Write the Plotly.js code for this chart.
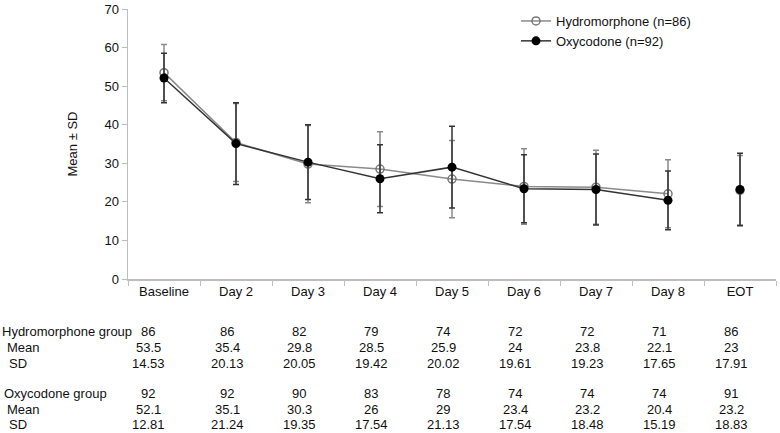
<!DOCTYPE html>
<html>
<head>
<meta charset="utf-8">
<script src="https://cdn.plot.ly/plotly-3.0.1.min.js"></script>
<style>
  html, body { margin: 0; padding: 0; background: #fff; }
  #chart { width: 780px; height: 433px; }
</style>
</head>
<body>
<div id="chart"></div>
<script>
var days = ['Baseline', 'Day 2', 'Day 3', 'Day 4', 'Day 5', 'Day 6', 'Day 7', 'Day 8'];
var eot = 'EOT';
var allCats = days.concat([eot]);

// table values
var hydroN = [86, 86, 82, 79, 74, 72, 72, 71, 86];
var hydroMean = [53.5, 35.4, 29.8, 28.5, 25.9, 24, 23.8, 22.1, 23];
var hydroSD = ['14.53', '20.13', '20.05', '19.42', '20.02', '19.61', '19.23', '17.65', '17.91'];
var oxyN = [92, 92, 90, 83, 78, 74, 74, 74, 91];
var oxyMean = [52.1, 35.1, 30.3, 26, 29, 23.4, 23.2, 20.4, 23.2];
var oxySD = ['12.81', '21.24', '19.35', '17.54', '21.13', '17.54', '18.48', '15.19', '18.83'];

// error bar half-lengths as drawn in the figure
var hydroErr = [7.3, 10.1, 10.0, 9.7, 10.0, 9.8, 9.6, 8.8, 9.0];
var oxyErr = [6.4, 10.6, 9.7, 8.8, 10.6, 8.8, 9.2, 7.6, 9.4];

var yTicks = [0, 10, 20, 30, 40, 50, 60, 70];

var font = 'Liberation Sans, Arial, sans-serif';
var hydroCol = '#8a8a8a';
var oxyCol = '#333333';

function errBar(arr, col) {
  return {type: 'data', array: arr, visible: true, color: col, thickness: 1.5, width: 3};
}

var hydro = {
  x: days, y: hydroMean.slice(0, 8),
  name: 'Hydromorphone (n=86)',
  type: 'scatter', mode: 'lines+markers',
  line: {color: hydroCol, width: 1.5},
  marker: {symbol: 'circle-open', size: 8, color: '#777', line: {width: 1.5}},
  error_y: errBar(hydroErr.slice(0, 8), hydroCol),
  cliponaxis: false
};
var oxy = {
  x: days, y: oxyMean.slice(0, 8),
  name: 'Oxycodone (n=92)',
  type: 'scatter', mode: 'lines+markers',
  line: {color: oxyCol, width: 1.5},
  marker: {symbol: 'circle', size: 9, color: '#000'},
  error_y: errBar(oxyErr.slice(0, 8), oxyCol),
  cliponaxis: false
};
var hydroEot = {
  x: [eot], y: [hydroMean[8]], type: 'scatter', mode: 'markers', showlegend: false,
  marker: {symbol: 'circle-open', size: 8, color: '#777', line: {width: 1.5}},
  error_y: errBar([hydroErr[8]], hydroCol)
};
var oxyEot = {
  x: [eot], y: [oxyMean[8]], type: 'scatter', mode: 'markers', showlegend: false,
  marker: {symbol: 'circle', size: 9, color: '#000'},
  error_y: errBar([oxyErr[8]], oxyCol)
};

var data = [hydro, oxy, hydroEot, oxyEot];

// table under the chart
var plotTop = 9, plotBottom = 279, plotL = 128, plotW = 648;
var plotH = plotBottom - plotTop;
function rowY(px) { return (plotBottom - px) / plotH; }
function colX(px) { return (px - plotL) / plotW; }

var ann = [];
function label(txt, px, py) {
  ann.push({xref: 'paper', yref: 'paper', x: colX(px), y: rowY(py), xanchor: 'left', yanchor: 'middle',
    text: txt, showarrow: false, font: {family: font, size: 13, color: '#111'}});
}
function row(vals, py) {
  for (var i = 0; i < vals.length; i++) {
    ann.push({xref: 'x', yref: 'paper', x: allCats[i], y: rowY(py), xanchor: 'center', yanchor: 'middle',
      xshift: i === 0 ? -16 : -9,
      text: String(vals[i]), showarrow: false, font: {family: font, size: 13, color: '#111'}});
  }
}
label('Hydromorphone group', 0, 331);
label('Mean', 5, 347);
label('SD', 7, 363);
label('Oxycodone group', 2, 393);
label('Mean', 5, 409);
label('SD', 7, 424);
row(hydroN, 331);
row(hydroMean, 347);
row(hydroSD, 363);
row(oxyN, 393);
row(oxyMean, 409);
row(oxySD, 424);

var layout = {
  width: 780, height: 433,
  margin: {l: plotL, r: 4, t: plotTop, b: 433 - plotBottom},
  paper_bgcolor: '#fff', plot_bgcolor: '#fff',
  font: {family: font, size: 13, color: '#111'},
  showlegend: true,
  legend: {x: colX(516), y: rowY(6), xanchor: 'left', yanchor: 'top', bgcolor: 'rgba(0,0,0,0)',
    font: {family: font, size: 13, color: '#111'}},
  xaxis: {
    type: 'category', categoryorder: 'array', categoryarray: allCats,
    range: [-0.5, 8.5], showgrid: false, zeroline: false,
    showline: true, linecolor: '#bdbdbd', linewidth: 1.5,
    ticks: 'outside', tickson: 'boundaries', ticklen: 5, tickcolor: '#bdbdbd',
    tickfont: {family: font, size: 13, color: '#111'}
  },
  yaxis: {
    range: [0, 70], tickmode: 'array', tickvals: yTicks, showgrid: false, zeroline: false,
    showline: true, linecolor: '#bdbdbd', linewidth: 1.5,
    ticks: 'outside', ticklen: 5, tickcolor: '#bdbdbd',
    tickfont: {family: font, size: 13, color: '#111'},
    title: {text: 'Mean ± SD', font: {family: font, size: 13, color: '#111'}, standoff: 24}
  },
  annotations: ann
};

Plotly.newPlot('chart', data, layout, {displayModeBar: false, staticPlot: true});
</script>
</body>
</html>
